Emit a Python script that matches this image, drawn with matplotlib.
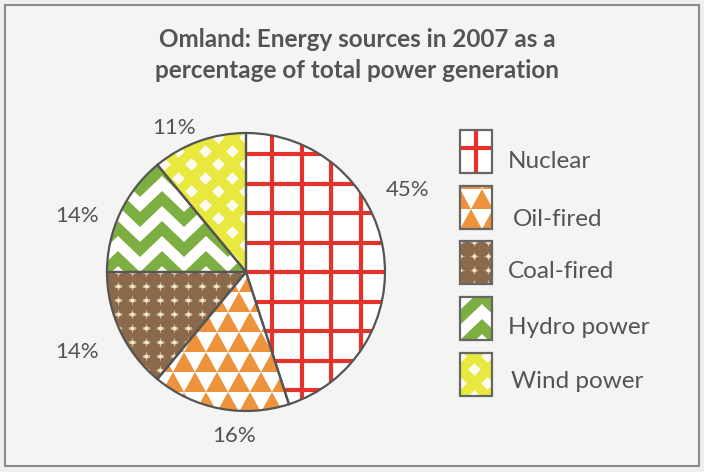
import numpy as np
import matplotlib.pyplot as plt
from matplotlib.patches import Rectangle, Wedge, Polygon
from matplotlib.collections import PolyCollection

sources = ['Nuclear', 'Oil-fired', 'Coal-fired', 'Hydro power', 'Wind power']
shares = [45, 16, 14, 14, 11]
pct_labels = ['45%', '16%', '14%', '14%', '11%']
title = 'Omland: Energy sources in 2007 as a\npercentage of total power generation'

W, H = 704, 472
TXT = '#545454'
plt.rcParams['font.family'] = ['Lato', 'DejaVu Sans']

fig = plt.figure(figsize=(W / 100, H / 100), dpi=100)
fig.patch.set_facecolor('#efefed')
ax = fig.add_axes([0, 0, 1, 1])


def Y(y):
    # pixel rows are counted from the top
    return H - y


# --- texture helpers, everything clipped to a patch ---
def grid_tex(clip, box, step, ox, oy, color, lw):
    x0, x1, y0, y1 = box
    for x in np.arange(ox + np.floor((x0 - ox) / step) * step, x1 + step, step):
        ln, = ax.plot([x, x], [y0, y1], color=color, lw=lw, solid_capstyle='butt', zorder=2)
        ln.set_clip_path(clip)
    for y in np.arange(oy + np.floor((y0 - oy) / step) * step, y1 + step, step):
        ln, = ax.plot([x0, x1], [y, y], color=color, lw=lw, solid_capstyle='butt', zorder=2)
        ln.set_clip_path(clip)


def tri_tex(clip, box, w, h, ox, oy, color):
    x0, x1, y0, y1 = box
    polys = []
    j0 = int(np.floor((y0 - oy) / h)) - 1
    j1 = int(np.ceil((y1 - oy) / h)) + 1
    for j in range(j0, j1):
        y = oy + j * h
        shift = (j % 2) * w / 2
        for x in np.arange(ox + shift + np.floor((x0 - ox) / w) * w - w, x1 + w, w):
            polys.append([(x, y), (x + w, y), (x + w / 2, y + h)])
    pc = PolyCollection(polys, facecolors=color, edgecolors='none', zorder=2)
    ax.add_collection(pc)
    pc.set_clip_path(clip)


def dot_tex(clip, box, step, ox, oy, color, size):
    x0, x1, y0, y1 = box
    xs = np.arange(ox + np.floor((x0 - ox) / step) * step, x1 + step, step)
    ys = np.arange(oy + np.floor((y0 - oy) / step) * step, y1 + step, step)
    gx, gy = np.meshgrid(xs, ys)
    sc = ax.scatter(gx.ravel(), gy.ravel(), s=size, color=color, marker='o', lw=0, zorder=2)
    sc.set_clip_path(clip)
    sc2 = ax.scatter(gx.ravel(), gy.ravel(), s=size * 3.5, color=color, marker='+', lw=0.8, alpha=0.5, zorder=2)
    sc2.set_clip_path(clip)


def zig_tex(clip, box, period, amp, gap, thick, ox, oy, color):
    x0, x1, y0, y1 = box
    xs = np.arange(ox + np.floor((x0 - ox) / period) * period - period, x1 + period, period / 2)
    up = ((xs - ox) / (period / 2)).round().astype(int) % 2
    for base in np.arange(oy + np.floor((y0 - oy) / gap) * gap - gap, y1 + gap + amp, gap):
        top = base + up * amp
        pts = list(zip(xs, top)) + list(zip(xs[::-1], top[::-1] - thick))
        pg = Polygon(pts, closed=True, facecolor=color, edgecolor='none', zorder=2)
        ax.add_patch(pg)
        pg.set_clip_path(clip)


def diamond_tex(clip, box, sx, sy, ox, oy, color, size):
    x0, x1, y0, y1 = box
    px, py = [], []
    for j, y in enumerate(np.arange(oy + np.floor((y0 - oy) / sy) * sy - sy, y1 + sy, sy)):
        shift = (j % 2) * sx / 2
        for x in np.arange(ox + shift + np.floor((x0 - ox) / sx) * sx - sx, x1 + sx, sx):
            px.append(x)
            py.append(y)
    sc = ax.scatter(px, py, s=size, marker='D', color=color, lw=0, zorder=2)
    sc.set_clip_path(clip)


def texture(i, clip, box, ox, oy):
    if i == 0:
        grid_tex(clip, box, 29.5, ox, oy, '#e5332c', 3.0)
    elif i == 1:
        tri_tex(clip, box, 22, 20, ox, oy, '#ef923c')
    elif i == 2:
        dot_tex(clip, box, 14, ox, oy, '#f6e7cc', 9)
    elif i == 3:
        zig_tex(clip, box, 44, 21, 30, 15, ox, oy, '#7cae42')
    else:
        diamond_tex(clip, box, 27, 13.5, ox, oy, '#fbfbf0', 42)


backgrounds = ['white', 'white', '#8b6a4b', 'white', '#e8e83e']

# --- pie ---
cx, cy, r = 246, Y(272), 139
wedges, _ = ax.pie(shares, startangle=90, counterclock=False, center=(cx, cy), radius=r,
                   wedgeprops=dict(facecolor='none', edgecolor='#555555', linewidth=1.6))
for i, w in enumerate(wedges):
    w.set_zorder(5)
    bg = Wedge((cx, cy), r, w.theta1, w.theta2, facecolor=backgrounds[i], edgecolor='none', zorder=1)
    ax.add_patch(bg)
    texture(i, bg, (cx - r, cx + r, cy - r, cy + r), cx + 26, cy)

# percentage labels
label_xy = [(408, 190), (234, 436), (77, 352), (77, 216), (174, 128)]
for lab, (lx, ly) in zip(pct_labels, label_xy):
    ax.text(lx, Y(ly), lab, ha='center', va='center', fontsize=16, color=TXT)

# --- legend ---
box_top = [130, 186, 241, 297, 353]
text_y = [162, 219, 272, 327, 382]
text_x = [508, 513, 508, 508, 511]
bw, bh = 32, 43
for i, src in enumerate(sources):
    bx, by = 460, Y(box_top[i] + bh)
    bg = Rectangle((bx, by), bw, bh, facecolor=backgrounds[i], edgecolor='none', zorder=1)
    ax.add_patch(bg)
    texture(i, bg, (bx, bx + bw, by, by + bh), bx + 16 - 29.5 if i == 0 else bx, by + 25 if i == 0 else by)
    ax.add_patch(Rectangle((bx, by), bw, bh, facecolor='none', edgecolor='#666666', lw=1.6, zorder=5))
    ax.text(text_x[i], Y(text_y[i]), src, ha='left', va='center', fontsize=17.5, color=TXT)

ax.text(357, Y(55), title, ha='center', va='center', fontsize=17.5, fontweight='bold',
        color=TXT, linespacing=1.4)

# outer frame
ax.add_patch(Rectangle((5, Y(466)), 694, 461, facecolor='#f4f4f2', edgecolor='#8a8a8a', lw=1.5, zorder=0))

ax.set_xlim(0, W)
ax.set_ylim(0, H)
ax.set_aspect('auto')
ax.axis('off')
fig.savefig('out.png', dpi=100, facecolor=fig.get_facecolor())
